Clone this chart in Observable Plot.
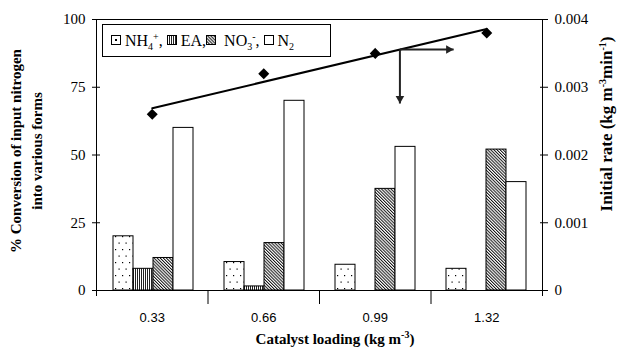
<!DOCTYPE html>
<html><head><meta charset="utf-8">
<script src="https://cdn.jsdelivr.net/npm/d3@7"></script>
<script src="https://cdn.jsdelivr.net/npm/@observablehq/plot@0.6"></script>
<style>
body{margin:0;background:#fff;}
#wrap{position:relative;width:622px;height:353px;background:#fff;overflow:hidden;}
#wrap svg.layer{position:absolute;left:0;top:0;}
.ttl{position:absolute;font-family:"Liberation Serif",serif;font-weight:bold;font-size:15px;white-space:nowrap;color:#000;line-height:21px;}
.ttl sup{font-size:10px;vertical-align:0;position:relative;top:-6px;}
#legend{position:absolute;left:102px;top:24px;width:219px;height:31px;border:1px solid #000;display:flex;align-items:center;padding-left:8px;box-sizing:content-box;font-family:"Liberation Serif",serif;font-size:16px;color:#000;white-space:pre;}
#legend sub{font-size:10px;vertical-align:0;position:relative;top:4px;}
#legend sup{font-size:10px;vertical-align:0;position:relative;top:-6px;}
#legend svg{display:block;margin-right:3px;}
</style></head><body>
<svg width="0" height="0" style="position:absolute">
<defs>
<pattern id="pDots" width="7" height="13" patternUnits="userSpaceOnUse">
<rect width="7" height="13" fill="#fff"/><rect x="2" y="2" width="1.2" height="1.2" fill="#000"/><rect x="5.5" y="8.5" width="1.2" height="1.2" fill="#000"/>
</pattern>
<pattern id="pV" width="2" height="4" patternUnits="userSpaceOnUse">
<rect width="2" height="4" fill="#fff"/><rect x="0" y="0" width="1" height="4" fill="#222"/>
</pattern>
<pattern id="pD" width="2.2" height="4" patternUnits="userSpaceOnUse" patternTransform="rotate(-45)">
<rect width="2.2" height="4" fill="#fff"/><rect x="0" y="0" width="1" height="4" fill="#111"/>
</pattern>
</defs></svg>
<div id="wrap"></div>
<script>
// ---- data ----
const loadings = [0.33, 0.66, 0.99, 1.32];
const loadingLabels = ["0.33", "0.66", "0.99", "1.32"];
const species = ["NH4+", "EA", "NO3-", "N2"];
const nh4 = [20, 10.5, 9.5, 8];
const ea = [8, 1.5, 0, 0];
const no3 = [12, 17.5, 37.5, 52];
const n2 = [60, 70, 53, 40];
const rate = [0.0026, 0.0032, 0.0035, 0.0038];
const leftTicks = [0, 25, 50, 75, 100];
const rightTicks = [0, 0.001, 0.002, 0.003, 0.004];
const legendLabels = ["NH<sub>4</sub><sup>+</sup>, ", "EA,", " NO<sub>3</sub><sup>-</sup>, ", "N<sub>2</sub>"];
const arrowStartX = 1.063;
const arrowRightTipX = 1.222;
const arrowDownTipY = 0.00276;

// ---- layout ----
const W = 622, H = 353;
const M = {marginTop: 19, marginRight: 80, marginBottom: 63, marginLeft: 96};
const fills = {"NH4+": "url(#pDots)", "EA": "url(#pV)", "NO3-": "url(#pD)", "N2": "#fff"};
const series = [nh4, ea, no3, n2];
const barData = loadingLabels.flatMap((l, i) => series.map((arr, j) => ({load: l, sp: species[j], v: arr[i]})));

const wrap = document.getElementById("wrap");

const chart1 = Plot.plot({
  width: W, height: H, ...M,
  style: {background: "transparent", fontFamily: "Liberation Serif", fontSize: "15px", color: "#000"},
  fx: {domain: loadingLabels, padding: 0, axis: null},
  x: {domain: species, paddingInner: 0, paddingOuter: 0.7, axis: null},
  y: {domain: [0, 100], axis: null},
  color: {type: "identity"},
  marks: [
    Plot.barY(barData.filter(d => d.v > 0), {fx: "load", x: "sp", y: "v", fill: d => fills[d.sp], stroke: "#000", strokeWidth: 1}),
    Plot.axisY({anchor: "left", ticks: leftTicks, tickSize: 8, insetLeft: 3, tickPadding: 7, label: null, fontSize: 15, fontFamily: "Liberation Serif"})
  ]
});
chart1.classList.add("layer");
wrap.appendChild(chart1);

// regression for arrow start
const xm = d3.mean(loadings), ym = d3.mean(rate);
const slope = d3.sum(loadings, (x, i) => (x - xm) * (rate[i] - ym)) / d3.sum(loadings, x => (x - xm) ** 2);
const yAt = x => ym + slope * (x - xm);
const y0 = yAt(arrowStartX);
const arrows = [
  {x1: arrowStartX, y1: y0, x2: arrowRightTipX, y2: y0, rot: 90},
  {x1: arrowStartX, y1: y0, x2: arrowStartX, y2: arrowDownTipY, rot: 180}
];

const step = loadings[1] - loadings[0];
const xd = [loadings[0] - step / 2, loadings[loadings.length - 1] + step / 2];
const bounds = d3.range(1, loadings.length).map(i => (loadings[i - 1] + loadings[i]) / 2);
const pts = loadings.map((x, i) => ({x, r: rate[i]}));

const chart2 = Plot.plot({
  width: W, height: H, ...M,
  style: {background: "transparent", fontFamily: "Liberation Serif", fontSize: "15px", color: "#000"},
  x: {domain: xd, axis: null},
  y: {domain: [0, 0.004], axis: null},
  marks: [
    Plot.ruleY([0.004], {stroke: "#000"}),
    Plot.ruleY([0], {stroke: "#000"}),
    Plot.ruleX(xd, {stroke: "#000", insetBottom: -6}),
    Plot.axisY({anchor: "right", ticks: rightTicks, tickSize: 8, insetRight: 3, tickPadding: 7, label: null,
      tickFormat: d => d === 0 ? "0" : d3.format(".3f")(d), fontSize: 15, fontFamily: "Liberation Serif"}),
    Plot.axisX({anchor: "bottom", ticks: bounds, tickSize: 14, tickFormat: () => "", label: null}),
    Plot.axisX({anchor: "bottom", ticks: loadings, tickSize: 0, tickPadding: 22, label: null,
      tickFormat: (d, i) => loadingLabels[loadings.indexOf(d)], fontSize: 13, fontFamily: "Liberation Sans"}),
    Plot.linearRegressionY(pts, {x: "x", y: "r", ci: 0, stroke: "#000", strokeWidth: 2}),
    Plot.dot(pts, {x: "x", y: "r", symbol: "diamond2", r: 4, fill: "#000", stroke: "#000"}),
    Plot.link(arrows, {x1: "x1", y1: "y1", x2: "x2", y2: "y2", stroke: "#222", strokeWidth: 2}),
    Plot.dot(arrows.filter(d => d.rot === 90), {x: "x2", y: "y2", symbol: "triangle", r: 3.2, rotate: 90, dx: -5, fill: "#222", stroke: "none"}),
    Plot.dot(arrows.filter(d => d.rot === 180), {x: "x2", y: "y2", symbol: "triangle", r: 3.2, rotate: 180, dy: -5, fill: "#222", stroke: "none"})
  ]
});
chart2.classList.add("layer");
wrap.appendChild(chart2);

// legend
const leg = document.createElement("div");
leg.id = "legend";
species.forEach((s, i) => {
  const ns = "http://www.w3.org/2000/svg";
  const sv = document.createElementNS(ns, "svg");
  sv.setAttribute("width", 11); sv.setAttribute("height", 11);
  const r = document.createElementNS(ns, "rect");
  r.setAttribute("x", 0.5); r.setAttribute("y", 0.5); r.setAttribute("width", 9); r.setAttribute("height", 9);
  r.setAttribute("fill", s === "NH4+" ? "#fff" : fills[s]); r.setAttribute("stroke", "#000");
  sv.appendChild(r);
  if (s === "NH4+") {
    const d = document.createElementNS(ns, "rect");
    d.setAttribute("x", 4); d.setAttribute("y", 4); d.setAttribute("width", 2); d.setAttribute("height", 2); d.setAttribute("fill", "#000");
    sv.appendChild(d);
  }
  leg.appendChild(sv);
  const sp = document.createElement("span");
  sp.innerHTML = legendLabels[i];
  leg.appendChild(sp);
});
wrap.appendChild(leg);

// titles
function title(html, css) {
  const d = document.createElement("div");
  d.className = "ttl"; d.innerHTML = html; Object.assign(d.style, css); wrap.appendChild(d); return d;
}
title("Catalyst loading (kg m<sup>-3</sup>)", {left: "335px", top: "329px", transform: "translateX(-50%)"});
title("% Conversion of input nitrogen<br>into various forms", {left: "27px", top: "151px", textAlign: "center", transform: "translate(-50%,-50%) rotate(-90deg)"});
title("Initial rate (kg m<sup>-3</sup>min<sup>-1</sup>)", {left: "607px", top: "124px", fontSize: "17px", transform: "translate(-50%,-50%) rotate(-90deg)"});
</script>
</body></html>
